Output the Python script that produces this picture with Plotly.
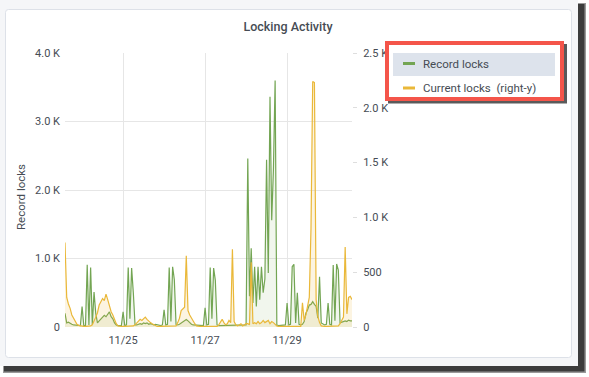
import pandas as pd
import plotly.graph_objects as go

# ---------------- data ----------------
start_time = "2019-11-23 14:00"
n_points = 169  # hourly samples

record_locks = [
    200, 60, 70, 50, 40, 30, 30, 20, 20, 20,
    300, 20, 20, 910, 30, 870, 30, 510, 200, 60,
    90, 120, 140, 170, 150, 190, 220, 150, 120, 60,
    30, 20, 20, 20, 220, 20, 30, 870, 120, 860,
    500, 30, 30, 40, 50, 40, 60, 50, 60, 40,
    50, 40, 30, 40, 30, 30, 20, 30, 250, 30,
    40, 870, 80, 880, 690, 40, 30, 40, 60, 80,
    100, 110, 90, 60, 40, 30, 30, 20, 20, 20,
    30, 20, 280, 30, 40, 867, 120, 860, 680, 30,
    20, 20, 30, 20, 20, 30, 20, 20, 30, 20,
    20, 30, 20, 20, 30, 20, 30, 2460, 450, 1150,
    350, 880, 300, 880, 400, 880, 500, 700, 2440, 790,
    3360, 1560, 2300, 3600, 30, 20, 20, 30, 20, 30,
    350, 30, 40, 880, 915, 60, 500, 40, 30, 40,
    80, 200, 250, 320, 330, 370, 330, 300, 130, 735,
    60, 40, 30, 40, 350, 40, 30, 905, 90, 920,
    830, 60, 70, 80, 90, 80, 100, 90, 90,
]

current_locks = [
    770, 270, 210, 170, 110, 80, 45, 25, 15, 10,
    5, 5, 5, 5, 10, 10, 20, 50, 90, 130,
    200, 230, 260, 240, 300, 250, 180, 140, 110, 60,
    30, 10, 5, 5, 5, 5, 5, 5, 5, 10,
    10, 20, 40, 50, 70, 60, 80, 90, 70, 50,
    40, 30, 20, 10, 5, 5, 5, 5, 5, 5,
    5, 5, 5, 5, 5, 10, 40, 80, 150, 170,
    180, 650, 150, 110, 80, 50, 30, 10, 5, 5,
    5, 5, 5, 5, 5, 5, 5, 5, 5, 5,
    20, 50, 70, 40, 20, 30, 60, 40, 710, 50,
    20, 10, 20, 30, 10, 20, 30, 30, 20, 590,
    30, 40, 30, 50, 30, 40, 60, 40, 50, 60,
    30, 50, 40, 20, 10, 5, 5, 5, 5, 5,
    5, 5, 5, 5, 5, 10, 10, 5, 5, 220,
    60, 110, 200, 270, 900, 2240, 2230, 250, 100, 40,
    10, 5, 5, 5, 5, 10, 5, 5, 10, 10,
    10, 30, 60, 90, 730, 120, 270, 280, 250,
]

left_tick_vals = [0, 1000, 2000, 3000, 4000]
left_tick_text = ["0", "1.0 K", "2.0 K", "3.0 K", "4.0 K"]
right_tick_vals = [0, 500, 1000, 1500, 2000, 2500]
right_tick_text = ["0", "500", "1.0 K", "1.5 K", "2.0 K", "2.5 K"]

series_names = ["Record locks", "Current locks"]
legend_labels = ["Record locks", "Current locks\u00a0\u00a0(right-y)"]
chart_title = "Locking Activity"

times = pd.date_range(start_time, periods=n_points, freq="h")

# ---------------- style ----------------
GREEN = "#73a553"
ORANGE = "#eab839"
TEXT = "#464c54"
GRID = "#e6e6e6"
FONT = "Roboto"

W, H = 589, 377
L, R, T, B = 65, 352, 53, 327


def fx(p):
    return (p - L) / (R - L)


def fy(p):
    return (B - p) / (B - T)


def rrect(x0, y0, x1, y1, r):
    a0, a1 = fx(x0), fx(x1)
    b0, b1 = fy(y0), fy(y1)
    rx = r / (R - L)
    ry = r / (B - T)
    return (f"M {a0+rx},{b0} L {a1-rx},{b0} Q {a1},{b0} {a1},{b0-ry} "
            f"L {a1},{b1+ry} Q {a1},{b1} {a1-rx},{b1} L {a0+rx},{b1} "
            f"Q {a0},{b1} {a0},{b1+ry} L {a0},{b0-ry} Q {a0},{b0} {a0+rx},{b0} Z")


fig = go.Figure()
fig.add_trace(go.Scatter(
    x=times, y=record_locks, name=series_names[0], mode="lines",
    line=dict(color=GREEN, width=1.2), fill="tozeroy",
    fillcolor="rgba(115,165,83,0.10)", yaxis="y", showlegend=False))
fig.add_trace(go.Scatter(
    x=times, y=current_locks, name=series_names[1], mode="lines",
    line=dict(color=ORANGE, width=1.2), fill="tozeroy",
    fillcolor="rgba(234,184,57,0.15)", yaxis="y2", showlegend=False))

shapes = []
# window shadow
shapes.append(dict(type="rect", xref="paper", yref="paper", layer="below",
                   x0=fx(3), x1=fx(586), y0=fy(3), y1=fy(373),
                   fillcolor="#9a9a9a", line=dict(width=0)))
shapes.append(dict(type="rect", xref="paper", yref="paper", layer="below",
                   x0=fx(4), x1=fx(584.5), y0=fy(4), y1=fy(371.5),
                   fillcolor="#3c3c3c", line=dict(width=0)))
# page background
shapes.append(dict(type="rect", xref="paper", yref="paper", layer="below",
                   x0=fx(0), x1=fx(578), y0=fy(0), y1=fy(366),
                   fillcolor="#f5f6f8", line=dict(width=0)))
# card
shapes.append(dict(type="path", xref="paper", yref="paper", layer="below",
                   path=rrect(5.5, 9.5, 571.5, 357.5, 3),
                   fillcolor="#ffffff", line=dict(color="#dde1e8", width=1)))
# legend box shadow, box, highlight
shapes.append(dict(type="rect", xref="paper", yref="paper", layer="above",
                   x0=fx(388), x1=fx(567), y0=fy(44), y1=fy(103.5),
                   fillcolor="#5a5a5a", line=dict(width=0)))
shapes.append(dict(type="rect", xref="paper", yref="paper", layer="above",
                   x0=fx(387), x1=fx(562), y0=fy(43), y1=fy(99),
                   fillcolor="#ffffff", line=dict(color="#f4554a", width=4)))
shapes.append(dict(type="rect", xref="paper", yref="paper", layer="above",
                   x0=fx(393), x1=fx(555), y0=fy(53), y1=fy(76),
                   fillcolor="#dde3ec", line=dict(width=0)))
for yy, col in [(63.5, GREEN), (88, ORANGE)]:
    shapes.append(dict(type="line", xref="paper", yref="paper", layer="above",
                       x0=fx(403), x1=fx(415), y0=fy(yy), y1=fy(yy),
                       line=dict(color=col, width=3)))

annotations = [
    dict(text=legend_labels[0], x=fx(421), y=fy(63.5), xref="paper", yref="paper",
         xanchor="left", yanchor="middle", showarrow=False,
         font=dict(family=FONT, size=11.5, color=TEXT)),
    dict(text=legend_labels[1], x=fx(421), y=fy(88), xref="paper", yref="paper",
         xanchor="left", yanchor="middle", showarrow=False,
         font=dict(family=FONT, size=11.5, color=TEXT)),
    dict(text=series_names[0], x=fx(21), y=fy(197), xref="paper", yref="paper",
         xanchor="center", yanchor="middle", textangle=-90, showarrow=False,
         font=dict(family=FONT, size=11.5, color=TEXT)),
]

fig.update_layout(
    width=W, height=H, autosize=False,
    margin=dict(l=L, r=W - R, t=T, b=H - B, pad=0),
    paper_bgcolor="#ffffff", plot_bgcolor="rgba(0,0,0,0)",
    font=dict(family=FONT, size=11, color=TEXT),
    title=dict(text=chart_title, x=288 / W, xanchor="center",
               y=1 - 27 / H, yanchor="middle", xref="container", yref="container",
               font=dict(family=FONT, size=12.5, color=TEXT, weight=500)),
    xaxis=dict(type="date", range=[times[0], times[-1]], showgrid=True,
               gridcolor=GRID, gridwidth=1, tickformat="%m/%d",
               dtick=2 * 86400000, tick0="2019-11-25", ticks="",
               zeroline=False, showline=False, ticklabelstandoff=5,
               tickfont=dict(family=FONT, size=11, color=TEXT)),
    yaxis=dict(range=[0, 4000], tickvals=left_tick_vals, ticktext=left_tick_text,
               showgrid=True, gridcolor=GRID, zeroline=False, ticks="",
               showline=False, ticklabelstandoff=4,
               tickfont=dict(family=FONT, size=11, color=TEXT)),
    yaxis2=dict(range=[0, 2500], tickvals=right_tick_vals, ticktext=right_tick_text,
                overlaying="y", side="right", showgrid=False, zeroline=False,
                ticks="outside", ticklen=4, tickcolor="#dedede", showline=False,
                ticklabelstandoff=4,
                tickfont=dict(family=FONT, size=11, color=TEXT)),
    shapes=shapes, annotations=annotations, showlegend=False,
    hovermode=False,
)

fig.write_html("out.html", config={"displayModeBar": False},
               post_script="document.body.style.margin='0px';document.body.style.padding='0px';")
